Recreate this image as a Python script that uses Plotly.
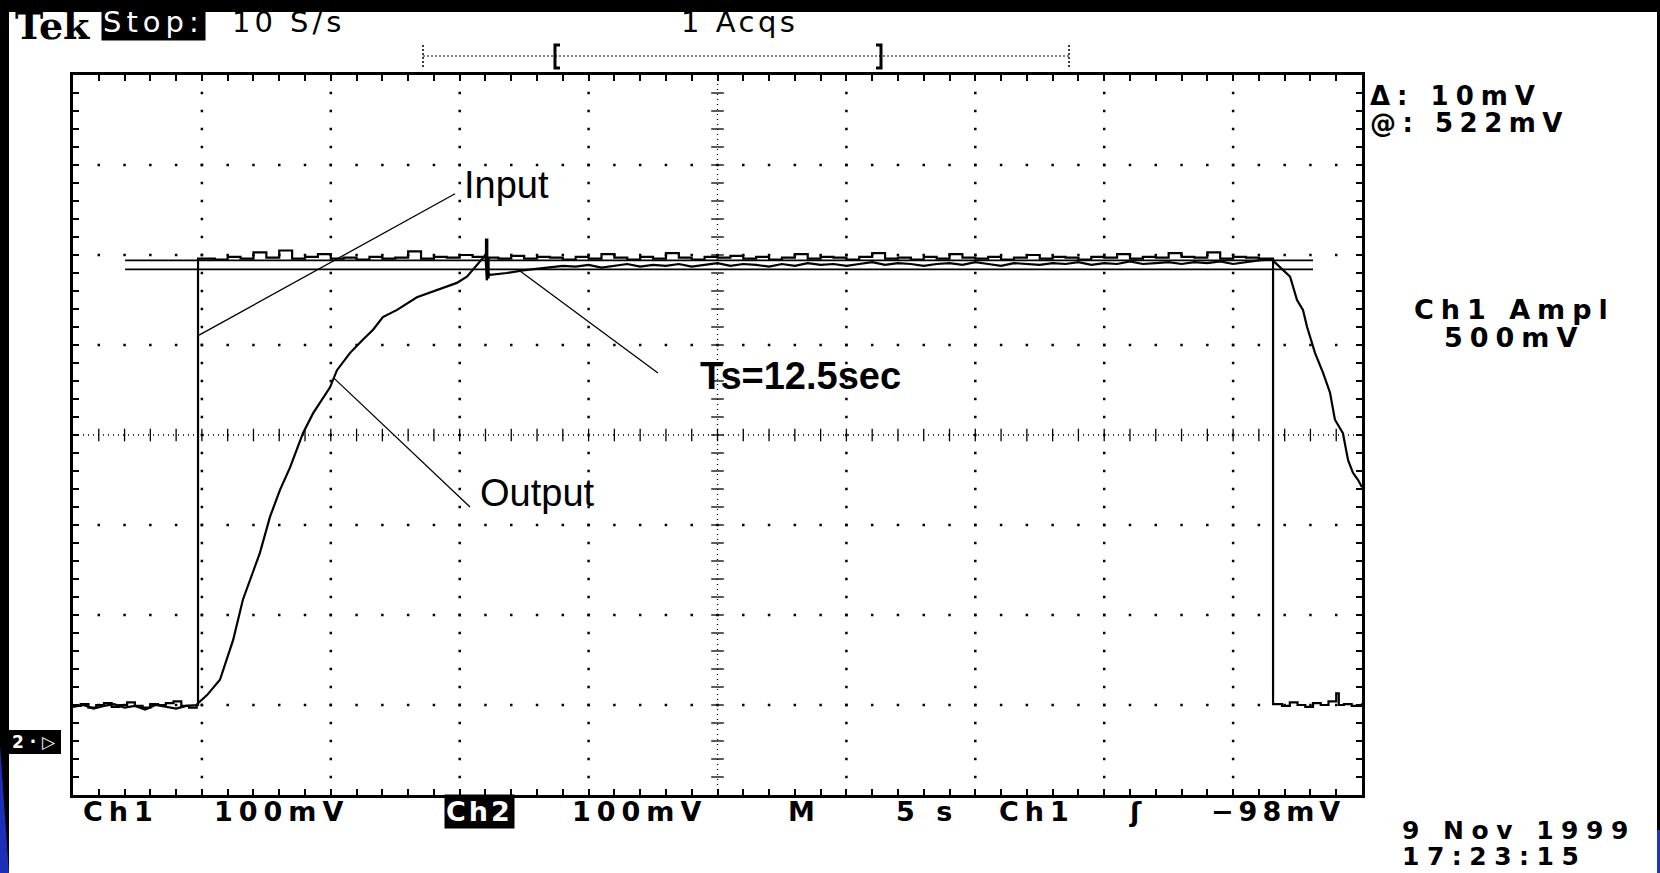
import numpy as np
import plotly.graph_objects as go

# ---------------- data (time in s, 5 s/div; voltage in mV, 100 mV/div) ----------------
in_low1_t = [0.0, 0.3, 0.6, 0.9, 1.2, 1.5, 1.8, 2.1, 2.4, 2.7, 3.0, 3.3, 3.6, 3.9, 4.2, 4.5, 4.8]
in_low1_v = [-301, -299, -303, -300, -298, -302, -300, -297, -301, -303, -299, -300, -298, -296, -301, -303, -300]
in_step_up_t = 4.85
in_step_down_t = 46.55
in_hi_v = [196, 195, 198, 196, 203, 197, 205, 196, 198, 201,
           196, 197, 195, 198, 196, 197, 204, 196, 198, 197,
           200, 198, 197, 196, 199, 196, 198, 197, 195, 198,
           196, 201, 197, 195, 198, 196, 202, 197, 195, 198,
           197, 199, 196, 198, 195, 197, 201, 196, 198, 197,
           195, 198, 202, 196, 197, 195, 198, 196, 201, 197,
           196, 198, 195, 197, 200, 196, 198, 197, 195, 198,
           197, 201, 196, 198, 197, 202, 198, 197, 203, 196,
           198, 197, 196]
in_hi_t = list(np.round(np.arange(5.0, 46.01, 0.5), 2))
glitch_t = [16.02, 16.07, 16.12]
glitch_in_v = [217, 175, 197]
in_low2_t = [46.6, 46.9, 47.2, 47.5, 47.8, 48.1, 48.4, 48.7, 49.0, 49.1, 49.3, 49.6, 50.0]
in_low2_v = [-299, -301, -297, -300, -302, -298, -300, -296, -287, -300, -299, -301, -298]

out_low_t = [0.0, 0.4, 0.8, 1.2, 1.6, 2.0, 2.4, 2.8, 3.2, 3.6, 4.0, 4.4, 4.8]
out_low_v = [-302, -300, -304, -301, -299, -303, -301, -305, -300, -302, -304, -301, -300]
out_rise_t = [4.85, 5.2, 5.7, 6.21, 6.59, 6.98, 7.25, 7.64, 8.03, 8.42, 8.92, 9.31, 9.97, 10.24,
              10.74, 11.25, 11.64, 12.02, 12.57, 13.34, 14.12, 14.89, 15.28, 16.0, 16.05, 16.1,
              16.18, 16.83, 17.45]
out_rise_v = [-298, -289, -272, -228, -183, -153, -131, -91, -61, -36, 2, 24, 53, 72,
              91, 106, 117, 131, 139, 153, 161, 169, 176, 200, 172, 180,
              178, 180, 183]
out_flat_v = [185, 186, 188, 187, 189, 186, 188, 190, 187, 189,
              188, 190, 187, 189, 191, 188, 190, 189, 187, 190,
              188, 191, 189, 190, 188, 190, 192, 189, 191, 190,
              188, 190, 191, 189, 192, 190, 188, 191, 190, 189,
              191, 190, 192, 189, 191, 190, 193, 190, 191, 192,
              190, 192, 191, 193, 190, 192, 194, 195]
out_flat_t = list(np.round(np.arange(18.0, 46.51, 0.5), 2))
out_fall_t = [46.93, 47.21, 47.48, 47.71, 47.87, 48.18, 48.49, 48.76, 48.95, 49.26, 49.46, 49.65, 49.85, 50.0]
out_fall_v = [183, 176, 150, 139, 120, 91, 69, 47, 17, 2, -28, -42, -50, -58]

cursor_levels = [194, 184]          # delta 10 mV
cursor_span = [2.02, 48.1]

# annotation leaders: (t0, v0, t1, v1)
input_leader = [14.82, 268, 4.89, 111]
ts_leader = [22.69, 69, 17.30, 183]
output_leader = [15.40, -80, 10.09, 64]
labels = ["Input", "Ts=12.5sec", "Output"]
label_pos = [(16.8, 278), (28.2, 66), (18.0, -64)]

# ---------------- assemble traces ----------------
hi_t = in_hi_t + glitch_t
hi_v = in_hi_v + glitch_in_v
order = np.argsort(hi_t, kind="stable")
hi_t = [hi_t[i] for i in order]
hi_v = [hi_v[i] for i in order]
in_t = in_low1_t + [in_step_up_t, in_step_up_t] + hi_t + [in_step_down_t, in_step_down_t] + in_low2_t
in_v = in_low1_v + [in_low1_v[-1], in_hi_v[0]] + hi_v + [in_hi_v[-1], in_low2_v[0]] + in_low2_v

out_t = out_low_t + out_rise_t + out_flat_t + out_fall_t
out_v = out_low_v + out_rise_v + out_flat_v + out_fall_v

# ---------------- figure geometry ----------------
W, H = 1660, 873
L, R, T, B = 73, 1362, 75, 795
def PX(x):
    return (x - L) / (R - L)
def PY(y):
    return (B - y) / (B - T)

fig = go.Figure()

# graticule dots
gx, gy = [], []
for xm in [5, 10, 15, 20, 30, 35, 40, 45]:
    for yv in range(-380, 381, 20):
        gx.append(xm); gy.append(yv)
for ym in [-300, -200, -100, 100, 200, 300]:
    for xv in range(1, 50):
        gx.append(xv); gy.append(ym)
fig.add_trace(go.Scatter(x=gx, y=gy, mode="markers", hoverinfo="skip",
                         marker=dict(symbol="square", size=2.5, color="black", line_width=0)))
# center cross
fig.add_trace(go.Scatter(x=[0, 50], y=[0, 0], mode="lines", hoverinfo="skip",
                         line=dict(color="black", width=1.3, dash="1px,4px")))
fig.add_trace(go.Scatter(x=[25, 25], y=[-400, 400], mode="lines", hoverinfo="skip",
                         line=dict(color="black", width=1.3, dash="1px,4px")))
fig.add_trace(go.Scatter(x=list(range(1, 50)), y=[0] * 49, mode="markers", hoverinfo="skip",
                         marker=dict(symbol="line-ns", size=9, color="black", line=dict(width=1.3, color="black"))))
fig.add_trace(go.Scatter(x=[25] * 39, y=list(range(-380, 381, 20)), mode="markers", hoverinfo="skip",
                         marker=dict(symbol="line-ew", size=9, color="black", line=dict(width=1.3, color="black"))))

# cursors
for lv in cursor_levels:
    fig.add_trace(go.Scatter(x=cursor_span, y=[lv, lv], mode="lines", hoverinfo="skip",
                             line=dict(color="black", width=1.6)))

# waveforms
fig.add_trace(go.Scatter(x=in_t, y=in_v, mode="lines", name="Ch1 Input",
                         line=dict(color="black", width=2.2, shape="hv")))
fig.add_trace(go.Scatter(x=out_t, y=out_v, mode="lines", name="Ch2 Output",
                         line=dict(color="black", width=2.2)))

# leader lines
for ld in [input_leader, ts_leader, output_leader]:
    fig.add_shape(type="line", xref="x", yref="y", x0=ld[0], y0=ld[1], x1=ld[2], y1=ld[3],
                  line=dict(color="black", width=1.3))

# labels inside the plot
fig.add_annotation(x=label_pos[0][0], y=label_pos[0][1], text=labels[0], showarrow=False,
                   font=dict(family="Liberation Sans", size=38, color="black"))
fig.add_annotation(x=label_pos[1][0], y=label_pos[1][1], text="<b>" + labels[1] + "</b>", showarrow=False,
                   font=dict(family="Liberation Sans", size=38, color="black"))
fig.add_annotation(x=label_pos[2][0], y=label_pos[2][1], text=labels[2], showarrow=False,
                   font=dict(family="Liberation Sans", size=38, color="black"))

# ---------------- scope screen texts ----------------
SF = "DejaVu Sans"
def txt(x, y, s, size=27, anchor="center", color="black", bg=None, family=SF, bold=True, ls=0):
    body = '<span style="letter-spacing:%.1fpx">%s</span>' % (ls, s) if ls else s
    if bold:
        body = "<b>%s</b>" % body
    fig.add_annotation(xref="paper", yref="paper", x=PX(x), y=PY(y), text=body,
                       showarrow=False, xanchor=anchor, yanchor="middle",
                       font=dict(family=family, size=size, color=color),
                       bgcolor=bg, borderpad=1)

txt(13, 25, "Tek", size=38, anchor="left", family="DejaVu Serif")
txt(101, 22, "Stop:", size=29, anchor="left", color="white", bg="black", bold=False, ls=5)
txt(230, 22, "10 S/s", size=29, anchor="left", bold=False, ls=4)
txt(739, 22, "1 Acqs", size=29, bold=False, ls=3.5)

txt(1368, 96, "Δ: 10mV", size=26, anchor="left", ls=7)
txt(1368, 123, "@: 522mV", size=26, anchor="left", ls=6.5)
txt(1514, 309, "Ch1 Ampl", size=27, ls=7)
txt(1514, 337, "500mV", size=27, ls=7)

by = 811
txt(121, by, "Ch1", size=27, ls=6)
txt(281, by, "100mV", size=27, ls=6)
txt(479, by, "Ch2", size=27, color="white", bg="black", ls=3)
txt(639, by, "100mV", size=27, ls=6)
txt(801, by, "M", size=27)
txt(927, by, "5 s", size=27, ls=6)
txt(1037, by, "Ch1", size=27, ls=6)
txt(1135, by, "ʃ", size=27)
txt(1278, by, "−98mV", size=27, ls=5)

txt(1400, 830, "9 Nov 1999", size=25, anchor="left", ls=7.5)
txt(1400, 856, "17:23:15", size=25, anchor="left", ls=7.5)

# Ch2 ground marker
fig.add_shape(type="rect", xref="paper", yref="paper", x0=PX(8), x1=PX(61), y0=PY(730), y1=PY(754),
              fillcolor="black", line_width=0)
txt(34, 742, "2 · ▷", size=17, color="white")

# record-view bracket at top
fig.add_shape(type="line", xref="paper", yref="paper", x0=PX(423), x1=PX(1069), y0=PY(56), y1=PY(56),
              line=dict(color="black", width=1.2, dash="2px,2px"))
for xe in [423, 1069]:
    fig.add_shape(type="line", xref="paper", yref="paper", x0=PX(xe), x1=PX(xe), y0=PY(45), y1=PY(68),
                  line=dict(color="black", width=1.5, dash="2px,2px"))
fig.add_shape(type="path", xref="paper", yref="paper",
              path="M %f %f L %f %f L %f %f L %f %f" % (PX(560), PY(45), PX(555), PY(45), PX(555), PY(68), PX(560), PY(68)),
              line=dict(color="black", width=3))
fig.add_shape(type="path", xref="paper", yref="paper",
              path="M %f %f L %f %f L %f %f L %f %f" % (PX(876), PY(45), PX(881), PY(45), PX(881), PY(68), PX(876), PY(68)),
              line=dict(color="black", width=3))

# screen edges (black band top/left, blue corners)
fig.add_shape(type="rect", xref="paper", yref="paper", x0=PX(0), x1=PX(W), y0=PY(0), y1=PY(12),
              fillcolor="black", line_width=0, layer="below")
fig.add_shape(type="rect", xref="paper", yref="paper", x0=PX(0), x1=PX(9), y0=PY(0), y1=PY(H),
              fillcolor="black", line_width=0, layer="below")
fig.add_shape(type="path", xref="paper", yref="paper",
              path="M %f %f L %f %f L %f %f Z" % (PX(0), PY(745), PX(9), PY(H), PX(0), PY(H)),
              fillcolor="#1c2fb8", line_width=0, layer="below")
fig.add_shape(type="rect", xref="paper", yref="paper", x0=PX(1657), x1=PX(W), y0=PY(12), y1=PY(830),
              fillcolor="black", line_width=0, layer="below")
fig.add_shape(type="rect", xref="paper", yref="paper", x0=PX(1657), x1=PX(W), y0=PY(830), y1=PY(H),
              fillcolor="#2233c0", line_width=0, layer="below")

axis_common = dict(showgrid=False, zeroline=False, showticklabels=False,
                   showline=True, linecolor="black", linewidth=3, mirror="ticks",
                   ticks="inside", ticklen=6, tickwidth=1.5, tickcolor="black", fixedrange=True)
fig.update_xaxes(range=[0, 50], tick0=0, dtick=1, **axis_common)
fig.update_yaxes(range=[-400, 400], tick0=-400, dtick=20, **axis_common)

fig.update_layout(width=W, height=H, autosize=False,
                  margin=dict(l=L, r=W - R, t=T, b=H - B, pad=0),
                  paper_bgcolor="white", plot_bgcolor="white", showlegend=False)

fig.write_html("out.html", config={"displayModeBar": False},
               post_script="document.body.style.margin='0px';document.body.style.overflow='hidden';")
